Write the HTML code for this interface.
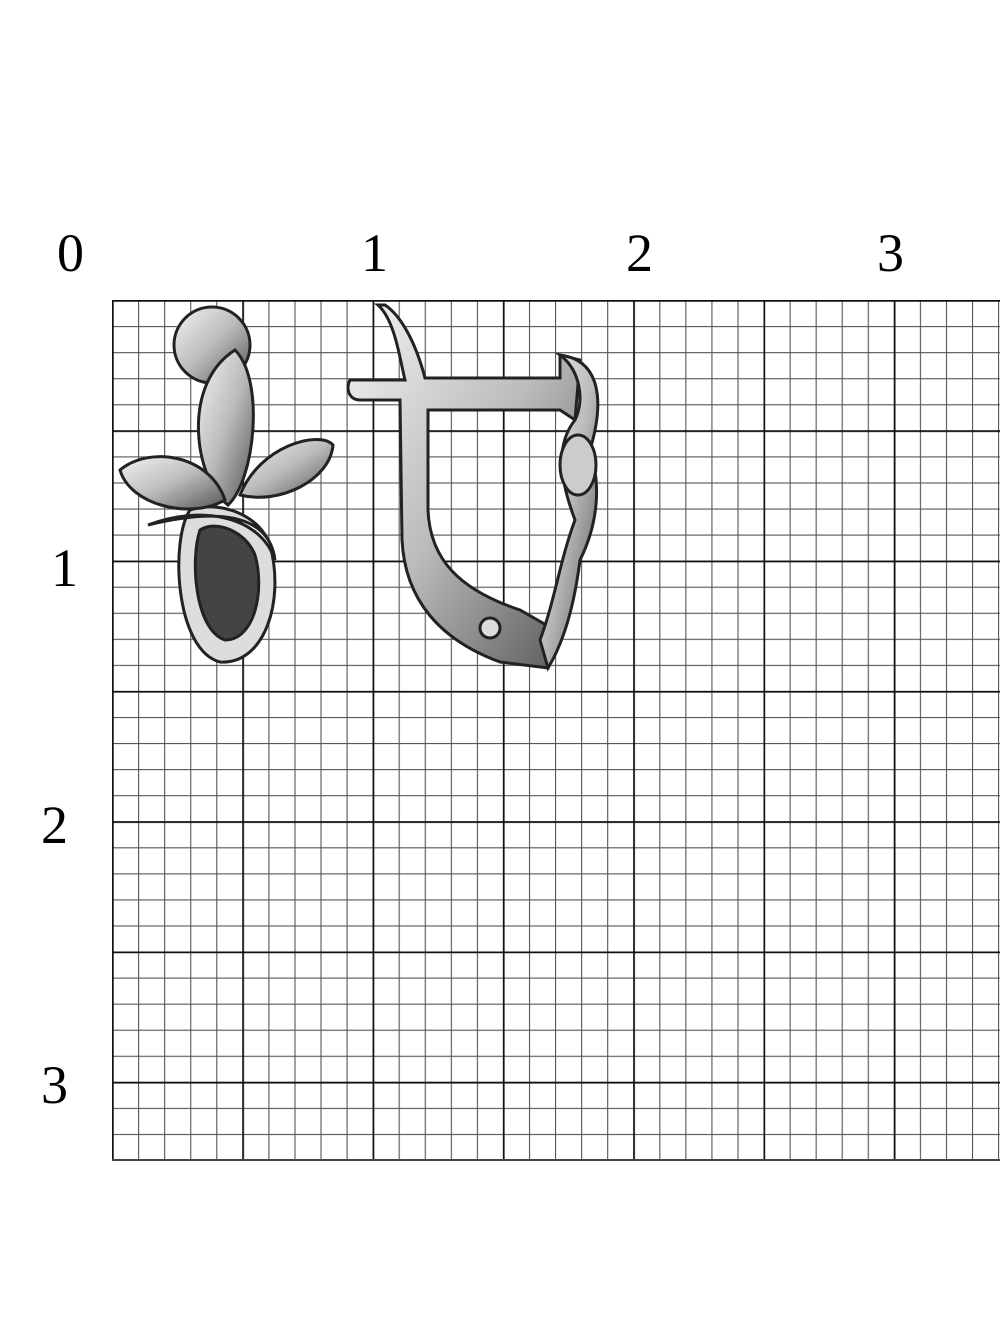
<!DOCTYPE html>
<html><head><meta charset="utf-8"><style>
html,body{margin:0;padding:0;background:#fff;width:1000px;height:1333px;overflow:hidden}
.l{position:absolute;font-family:"Liberation Serif",serif;font-size:54px;color:#000;line-height:1}
</style></head><body>
<div class="l" style="left:57px;top:226px">0</div>
<div class="l" style="left:361px;top:226px">1</div>
<div class="l" style="left:626px;top:226px">2</div>
<div class="l" style="left:877px;top:226px">3</div>
<div class="l" style="left:51px;top:541px">1</div>
<div class="l" style="left:41px;top:798px">2</div>
<div class="l" style="left:41px;top:1058px">3</div>
<svg width="1000" height="1333" style="position:absolute;left:0;top:0">
<defs>
<pattern id="mn" x="112" y="300" width="26.06" height="26.06" patternUnits="userSpaceOnUse">
<path d="M0 0H27M0 0V27" stroke="#555" stroke-width="2.2" fill="none"/>
</pattern>
<pattern id="mj" x="112" y="300" width="130.3" height="130.3" patternUnits="userSpaceOnUse">
<path d="M0 0H131M0 0V131" stroke="#111" stroke-width="3.4" fill="none"/>
</pattern>
<linearGradient id="s" x1="0" y1="0" x2="1" y2="1">
<stop offset="0" stop-color="#f4f4f4"/><stop offset="0.5" stop-color="#bbb"/><stop offset="1" stop-color="#555"/>
</linearGradient>
</defs>
<rect x="112" y="300" width="888" height="860" fill="url(#mn)"/>
<rect x="112" y="300" width="888" height="860" fill="url(#mj)"/>
<line x1="112" y1="1160" x2="1000" y2="1160" stroke="#444" stroke-width="2"/>
<g stroke="#222" stroke-width="3" fill="url(#s)">
<circle cx="212" cy="345" r="38"/>
<path d="M190 510 C170 540,175 650,220 662 C265 665,285 600,270 545 C260 515,220 500,190 510Z" fill="#ddd"/>
<path d="M200 530 C190 560,195 630,225 640 C255 640,265 590,255 555 C245 530,215 520,200 530Z" fill="#444"/>
<path d="M235 350 C265 380,255 480,228 505 C195 480,180 385,235 350Z"/>
<path d="M120 470 C150 445,210 455,225 500 C190 520,130 505,120 470Z"/>
<path d="M240 495 C260 445,320 430,333 445 C330 480,280 505,240 495Z"/>
<path d="M148 525 C200 505,260 515,275 560 C270 520,230 505,148 525Z" fill="#eee"/>
</g>
<g stroke="#222" stroke-width="3" fill="url(#s)">
<path d="M378 305 C395 320,400 360,405 380 L350 380 C345 390,350 400,360 400 L400 400 L402 540 C405 600,440 640,500 662 L548 668 L555 630 L520 610 C460 590,430 560,428 510 L428 410 L560 410 L575 420 L580 360 L560 355 L560 378 L425 378 C415 340,400 315,385 305Z"/>
<path d="M560 355 C600 360,605 400,590 450 C600 480,600 520,580 560 C575 600,565 640,548 668 L540 640 C555 600,560 560,575 520 C560 480,555 445,575 420 C585 400,580 370,560 355Z"/>
<ellipse cx="578" cy="465" rx="18" ry="30" fill="#ccc"/>
<circle cx="490" cy="628" r="10" fill="#ddd"/>
</g>
</svg>
</body></html>
